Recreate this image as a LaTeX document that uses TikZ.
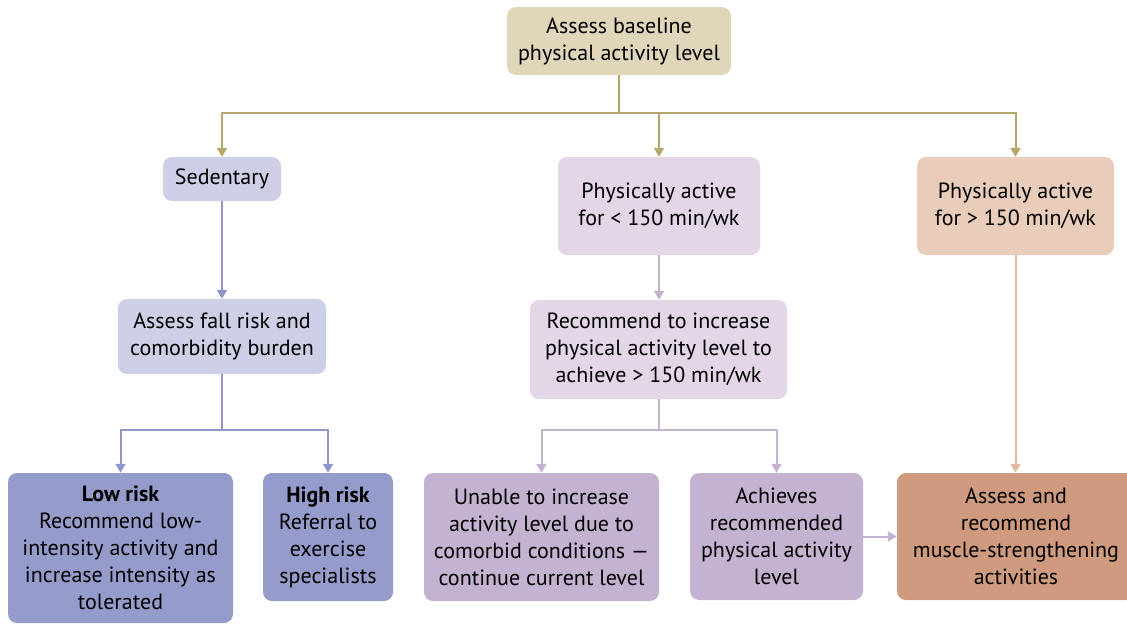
\documentclass[tikz,border=0pt]{standalone}
\usepackage{fontspec}
\setmainfont{PT Sans}
\usetikzlibrary{arrows.meta}
\definecolor{tanfill}{HTML}{E0D6B9}
\definecolor{tanline}{HTML}{B5A66B}
\definecolor{bluelight}{HTML}{CDCFE6}
\definecolor{bluedark}{HTML}{959CCB}
\definecolor{blueline}{HTML}{8F97C8}
\definecolor{purplelight}{HTML}{E2D6E7}
\definecolor{purpledark}{HTML}{C3B3D1}
\definecolor{purpleline}{HTML}{C3B2D0}
\definecolor{peachlight}{HTML}{E9CCBA}
\definecolor{peachdark}{HTML}{CF9A7E}
\definecolor{peachline}{HTML}{E3B9A3}
\begin{document}
\begin{tikzpicture}[x=1pt,y=-1pt,
  box/.style={rounded corners=9pt, align=center, inner sep=0pt,
    font=\fontsize{22}{27}\selectfont, text=black},
  conn/.style={line width=2pt, -{Triangle[width=10pt,length=9pt]}},
  seg/.style={line width=2pt}]
\useasboundingbox (0,0) rectangle (1127,624);
\clip (0,0) rectangle (1127,624);
\node[box, fill=tanfill, minimum width=224pt, minimum height=68pt] (top) at (619,41) {Assess baseline\\physical activity level};
\node[box, fill=bluelight, minimum width=118pt, minimum height=44pt] (sed) at (222,179) {Sedentary};
\node[box, fill=purplelight, minimum width=202pt, minimum height=98pt] (pa1) at (659,206) {Physically active\\for < 150 min/wk};
\node[box, fill=peachlight, minimum width=197pt, minimum height=98pt] (pa2) at (1015.5,206) {Physically active\\for > 150 min/wk};
\node[box, fill=bluelight, minimum width=208pt, minimum height=75pt] (fall) at (222,336.5) {Assess fall risk and\\comorbidity burden};
\node[box, fill=purplelight, minimum width=257pt, minimum height=99pt] (rec) at (658.5,349.5) {Recommend to increase\\physical activity level to\\achieve > 150 min/wk};
\node[box, fill=bluedark, minimum width=225pt, minimum height=150pt] (low) at (120.5,548) {\textbf{Low risk}\\Recommend low-\\intensity activity and\\increase intensity as\\tolerated};
\node[box, fill=bluedark, minimum width=130pt, minimum height=128pt] (high) at (328,537) {\textbf{High risk}\\Referral to\\exercise\\specialists};
\node[box, fill=purpledark, minimum width=235pt, minimum height=128pt] (unable) at (541.5,537) {Unable to increase\\activity level due to\\comorbid conditions ---\\continue current level};
\node[box, fill=purpledark, minimum width=173pt, minimum height=127pt] (ach) at (776.5,536.5) {Achieves\\recommended\\physical activity\\level};
\node[box, fill=peachdark, minimum width=238pt, minimum height=127pt] (mus) at (1016,536.5) {Assess and\\recommend\\muscle-strengthening\\activities};
% connectors
\coordinate (j1) at (619,113);
\draw[seg, tanline] (top) -- (j1);
\draw[conn, tanline] (j1) -| (sed);
\draw[conn, tanline] (j1) -| (pa1);
\draw[conn, tanline] (j1) -| (pa2);
\draw[conn, blueline] (sed) -- (fall);
\coordinate (j2) at (222,430);
\draw[seg, blueline] (fall) -- (j2);
\draw[conn, blueline] (j2) -| (low);
\draw[conn, blueline] (j2) -| (high);
\draw[conn, purpleline] (pa1.south) -- (pa1.south |- rec.north);
\coordinate (j3) at (658.5,430);
\draw[seg, purpleline] (rec) -- (j3);
\draw[conn, purpleline] (j3) -| (unable);
\draw[conn, purpleline] (j3) -| (ach);
\draw[conn, purpleline] (ach) -- (mus);
\draw[conn, peachline] (pa2.south) -- (pa2.south |- mus.north);
\end{tikzpicture}
\end{document}
